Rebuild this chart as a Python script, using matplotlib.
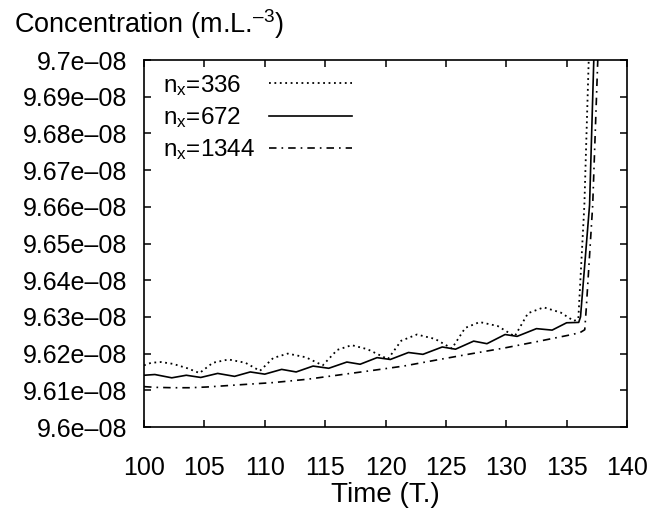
import numpy as np
import matplotlib
matplotlib.use("Agg")
import matplotlib.pyplot as plt

plt.rcParams['font.family'] = ['Liberation Sans', 'DejaVu Sans']
plt.rcParams['mathtext.fontset'] = 'custom'
plt.rcParams['mathtext.rm'] = 'Liberation Sans'
plt.rcParams['mathtext.it'] = 'Liberation Sans'

# values, concentration in units of 1e-8
t_336 = [100.0, 100.6, 101.4, 102.4, 103.6, 104.6, 105.7, 107.0, 108.4, 109.6,
         110.7, 111.9, 113.4, 114.8, 116.0, 117.2, 118.5, 120.2, 121.3, 122.6,
         124.1, 125.5, 126.6, 127.8, 129.3, 130.7, 131.8, 133.1, 134.5, 135.6,
         135.97, 136.47, 136.83, 137.0]
c_336 = [9.6168, 9.6175, 9.6177, 9.6172, 9.6160, 9.6147, 9.6175, 9.6184, 9.6175, 9.6153,
         9.6188, 9.6200, 9.6190, 9.6168, 9.6210, 9.6223, 9.6212, 9.6185, 9.6235, 9.6252,
         9.6240, 9.6214, 9.6270, 9.6286, 9.6275, 9.6247, 9.6310, 9.6326, 9.6312, 9.6289,
         9.6295, 9.6605, 9.7000, 9.7150]

t_672 = [100.0, 100.9, 102.3, 103.5, 104.7, 106.1, 107.5, 108.8, 110.0, 111.4,
         112.6, 114.0, 115.3, 116.8, 117.9, 119.3, 120.4, 121.9, 123.1, 124.7,
         125.8, 127.3, 128.4, 129.9, 130.9, 132.5, 133.8, 135.0, 136.0, 136.15,
         136.9, 137.25, 137.4]
c_672 = [9.6141, 9.6143, 9.6134, 9.6141, 9.6135, 9.6146, 9.6138, 9.6150, 9.6144, 9.6157,
         9.6150, 9.6166, 9.6160, 9.6177, 9.6171, 9.6189, 9.6184, 9.6203, 9.6198, 9.6218,
         9.6212, 9.6234, 9.6227, 9.6252, 9.6247, 9.6268, 9.6264, 9.6284, 9.6285, 9.6300,
         9.6605, 9.7000, 9.7160]

t_1344 = [100.0, 101.0, 102.4, 103.8, 105.2, 107.9, 110.7, 113.5, 116.2, 118.9,
          121.5, 124.3, 127.0, 129.8, 132.6, 135.3, 136.1, 136.5, 136.62, 137.16,
          137.58, 137.75]
c_1344 = [9.6110, 9.6108, 9.6107, 9.6107, 9.6109, 9.6115, 9.6121, 9.6130, 9.6142, 9.6154,
          9.6166, 9.6183, 9.6199, 9.6215, 9.6233, 9.6251, 9.6257, 9.6265, 9.6320, 9.6605,
          9.7000, 9.7150]

y_ticks = [9.6, 9.61, 9.62, 9.63, 9.64, 9.65, 9.66, 9.67, 9.68, 9.69, 9.7]
x_ticks = [100, 105, 110, 115, 120, 125, 130, 135, 140]

fig = plt.figure(figsize=(6.64, 5.11), dpi=100)
ax = fig.add_axes([144 / 664, 1 - 427 / 511, (627 - 144) / 664, (427 - 60) / 511])

ax.plot(t_336, np.array(c_336) * 1e-8, color='black', lw=1.3, dashes=(1, 2),
        label='n$_{\\mathrm{x}}$=336')
ax.plot(t_672, np.array(c_672) * 1e-8, color='black', lw=1.2,
        label='n$_{\\mathrm{x}}$=672')
ax.plot(t_1344, np.array(c_1344) * 1e-8, color='black', lw=1.2, dashes=(4.5, 3, 1, 3),
        label='n$_{\\mathrm{x}}$=1344')

ax.set_xlim(100, 140)
ax.set_ylim(9.6e-8, 9.7e-8)
ax.set_xticks(x_ticks)
ax.set_xticklabels([str(x) for x in x_ticks])
ax.set_yticks([v * 1e-8 for v in y_ticks])
ax.set_yticklabels([('%ge-08' % v).replace('-', '\u2013') for v in y_ticks])

ax.tick_params(direction='in', length=5, width=1.1, top=True, right=True,
               labelsize=18, colors='black')
ax.tick_params(axis='x', pad=21)
ax.tick_params(axis='y', pad=12)
for s in ax.spines.values():
    s.set_linewidth(1.2)

ax.set_xlabel('Time (T.)', fontsize=20, labelpad=1)
fig.text(0.021, 0.985, 'Concentration (m.L.$^{\u2013\\mathrm{3}}$)', fontsize=19.5,
         ha='left', va='top')

leg_fs = 17.5
leg = ax.legend(loc='upper left', bbox_to_anchor=(0.04, 0.965), frameon=False,
                markerfirst=False, fontsize=leg_fs, handlelength=3.4,
                handletextpad=0.55, labelspacing=0.3, borderaxespad=0, borderpad=0)

# gnuplot key: labels left-aligned, samples start at one x
fig.canvas.draw()
r = fig.canvas.get_renderer()
widths = [t.get_window_extent(r).width * 72 / fig.dpi for t in leg.get_texts()]
col = leg._legend_handle_box.get_children()[0]
col.align = 'left'
for row, w in zip(col.get_children(), widths):
    row.sep = 0.55 * leg_fs + (max(widths) - w)

fig.savefig('out.png', dpi=100)
